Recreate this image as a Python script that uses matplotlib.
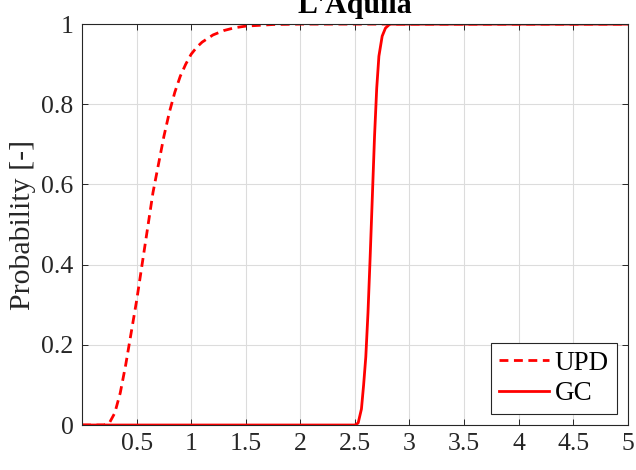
import matplotlib
matplotlib.use("Agg")
import matplotlib.pyplot as plt

plt.rcParams['font.family'] = ['Liberation Serif', 'DejaVu Serif']

upd_x = [0, 0.2, 0.25, 0.3, 0.35, 0.4, 0.45, 0.5, 0.55, 0.6, 0.65, 0.7, 0.75, 0.8,
         0.85, 0.9, 0.95, 1.0, 1.05, 1.1, 1.2, 1.3, 1.4, 1.5, 1.75, 2.0, 2.5, 3.0, 5.0]
upd_y = [0, 0.0, 0.005, 0.03, 0.08, 0.15, 0.23, 0.31, 0.40, 0.49, 0.58, 0.65, 0.72, 0.78,
         0.83, 0.87, 0.90, 0.925, 0.942, 0.955, 0.973, 0.984, 0.991, 0.995, 0.999, 1, 1, 1, 1]

gc_x = [0, 2.5, 2.53, 2.56, 2.58, 2.6, 2.62, 2.64, 2.66, 2.68, 2.70, 2.72, 2.75, 2.78, 2.82, 2.9, 5.0]
gc_y = [0, 0, 0.005, 0.04, 0.10, 0.17, 0.28, 0.42, 0.57, 0.72, 0.84, 0.92, 0.97, 0.99, 1.0, 1, 1]

x_ticks = [0.5, 1, 1.5, 2, 2.5, 3, 3.5, 4, 4.5, 5]
x_labels = ['0.5', '1', '1.5', '2', '2.5', '3', '3.5', '4', '4.5', '5']
y_ticks = [0, 0.2, 0.4, 0.6, 0.8, 1]
y_labels = ['0', '0.2', '0.4', '0.6', '0.8', '1']

fig = plt.figure(figsize=(6.36, 4.70), dpi=100)
ax = fig.add_axes([0.129, 0.0957, 0.858, 0.853])

ax.plot(upd_x, upd_y, color='red', lw=2.0, ls=(0, (3.2, 2.0)), label='UPD')
ax.plot(gc_x, gc_y, color='red', lw=2.0, ls='-', label='GC')

ax.set_xlim(0, 5)
ax.set_ylim(0, 1)
ax.set_xticks(x_ticks)
ax.set_xticklabels(x_labels)
ax.set_yticks(y_ticks)
ax.set_yticklabels(y_labels)
ax.tick_params(direction='in', length=4, width=0.7, labelsize=18.5, top=True, right=True,
               color='#262626', labelcolor='#262626', pad=6)
ax.grid(True, color='#dcdcdc', lw=0.8)
ax.set_axisbelow(True)
for s in ax.spines.values():
    s.set_color('#262626')
    s.set_linewidth(0.8)

ax.set_ylabel('Probability [-]', fontsize=21.5, color='#262626', labelpad=4)
ax.set_title("L'Aquila", fontsize=21.5, fontweight='bold', pad=8)

leg = ax.legend(loc='lower right', fontsize=19.5, fancybox=False, framealpha=1,
                edgecolor='#262626', handlelength=1.85, borderpad=0.3,
                labelspacing=0.2, handletextpad=0.2, borderaxespad=0.4)
leg.get_frame().set_linewidth(0.8)

fig.savefig('out.png', dpi=100)
